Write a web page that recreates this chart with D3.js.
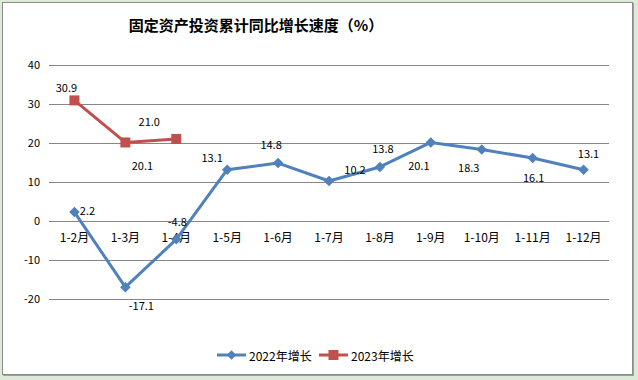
<!DOCTYPE html>
<html><head><meta charset="utf-8">
<script src="https://cdn.jsdelivr.net/npm/d3@7"></script>
<style>
html,body{margin:0;padding:0;background:#dcebd7;}
svg{display:block;}
text{font-family:"Noto Sans CJK SC","Noto Sans",sans-serif;fill:#000;}
</style></head>
<body>
<svg id="chart" width="638" height="380"></svg>
<script>
const categories = ["1-2月","1-3月","1-4月","1-5月","1-6月","1-7月","1-8月","1-9月","1-10月","1-11月","1-12月"];
const values2022 = [2.2,-17.1,-4.8,13.1,14.8,10.2,13.8,20.1,18.3,16.1,13.1];
const values2023 = [30.9,20.1,21.0];
const yTicks = [-20,-10,0,10,20,30,40];
const seriesNames = ["2022年增长","2023年增长"];
const title = "固定资产投资累计同比增长速度（%）";

// label placement offsets (dx, dy from point) - styling only
const lab2022 = [[13,-2],[16,18],[1,-18],[-15,-13],[-7,-19],[26,-12],[3,-19],[-12,23],[-13,18],[1,19],[5,-17]];
const lab2023 = [[-8,-13],[17,23],[-27,-18]];

const blue = "#4f81bd", red = "#c0504d";
const loc = d3.formatLocale({decimal:".",thousands:",",grouping:[3],currency:["",""],minus:"-"});
const fmt1 = loc.format(".1f"), fmt0 = loc.format("d");
const svg = d3.select("#chart");

// frame
svg.append("rect").attr("x",3).attr("y",3).attr("width",631).attr("height",373).attr("fill","#a0a0a0");
svg.append("rect").attr("x",2.5).attr("y",2.5).attr("width",630).attr("height",372)
  .attr("fill","#fff").attr("stroke","#8c8c8c").attr("stroke-width",1);

const x = d3.scaleBand().domain(categories).range([49,609]);
const y = d3.scaleLinear().domain([-20,40]).range([298.5,65]);

// gridlines
svg.append("g").selectAll("line").data(yTicks).join("line")
  .attr("x1",49).attr("x2",609)
  .attr("y1",d=>Math.round(y(d))+0.5).attr("y2",d=>Math.round(y(d))+0.5)
  .attr("stroke","#868686").attr("stroke-width",1);

// y axis labels
const yAxis = d3.axisLeft(y).tickValues(yTicks).tickSize(0).tickPadding(0).tickFormat(fmt0);
const gy = svg.append("g").attr("transform","translate(40,0)").call(yAxis);
gy.select(".domain").remove();
gy.selectAll("text").attr("font-size",11).attr("font-family","Noto Sans CJK SC, sans-serif").attr("fill","#000");

// x axis labels
const xAxis = d3.axisBottom(x).tickSize(0).tickPadding(0);
const gx = svg.append("g").attr("transform",`translate(0,${y(0)+13})`).call(xAxis);
gx.select(".domain").remove();
gx.selectAll("text").attr("font-size",12).attr("font-family","Noto Sans CJK SC, sans-serif").attr("fill","#000").attr("dy","0.71em");

const cx = d => x(d) + x.bandwidth()/2;
const line = d3.line().x(d=>cx(d[0])).y(d=>y(d[1]));

const d2022 = categories.map((c,i)=>[c,values2022[i]]);
const d2023 = values2023.map((v,i)=>[categories[i],v]);

function drawSeries(data, color, marker, labs){
  svg.append("path").datum(data).attr("d",line).attr("fill","none")
    .attr("stroke",color).attr("stroke-width",3).attr("stroke-linejoin","round");
  const g = svg.append("g");
  if(marker==="diamond"){
    g.selectAll("path").data(data).join("path")
      .attr("d",d3.symbol().type(d3.symbolDiamond2).size(70))
      .attr("transform",d=>`translate(${cx(d[0])},${y(d[1])})`).attr("fill",color);
  } else {
    g.selectAll("rect").data(data).join("rect")
      .attr("x",d=>cx(d[0])-5).attr("y",d=>y(d[1])-5).attr("width",10).attr("height",10)
      .attr("fill",color);
  }
  svg.append("g").selectAll("text").data(data).join("text")
    .attr("x",(d,i)=>cx(d[0])+labs[i][0]).attr("y",(d,i)=>y(d[1])+labs[i][1])
    .attr("text-anchor","middle").attr("dominant-baseline","central")
    .attr("font-size",11).text(d=>fmt1(d[1]));
}
drawSeries(d2022, blue, "diamond", lab2022);
drawSeries(d2023, red, "square", lab2023);

// title
svg.append("text").attr("x",256).attr("y",24).attr("text-anchor","middle")
  .attr("dominant-baseline","central").attr("font-size",15).attr("font-weight","bold").text(title);

// legend
const leg = [{name:seriesNames[0],color:blue,m:"diamond",x:217},{name:seriesNames[1],color:red,m:"square",x:319}];
const lg = svg.append("g");
leg.forEach(l=>{
  lg.append("line").attr("x1",l.x).attr("x2",l.x+29).attr("y1",355).attr("y2",355).attr("stroke",l.color).attr("stroke-width",3);
  if(l.m==="diamond"){
    lg.append("path").attr("d",d3.symbol().type(d3.symbolDiamond2).size(60)).attr("transform",`translate(${l.x+14.5},355)`).attr("fill",l.color);
  } else {
    lg.append("rect").attr("x",l.x+9.5).attr("y",350).attr("width",10).attr("height",10).attr("fill",l.color);
  }
  lg.append("text").attr("x",l.x+32).attr("y",355).attr("dominant-baseline","central").attr("font-size",12).text(l.name);
});
</script>
</body></html>
